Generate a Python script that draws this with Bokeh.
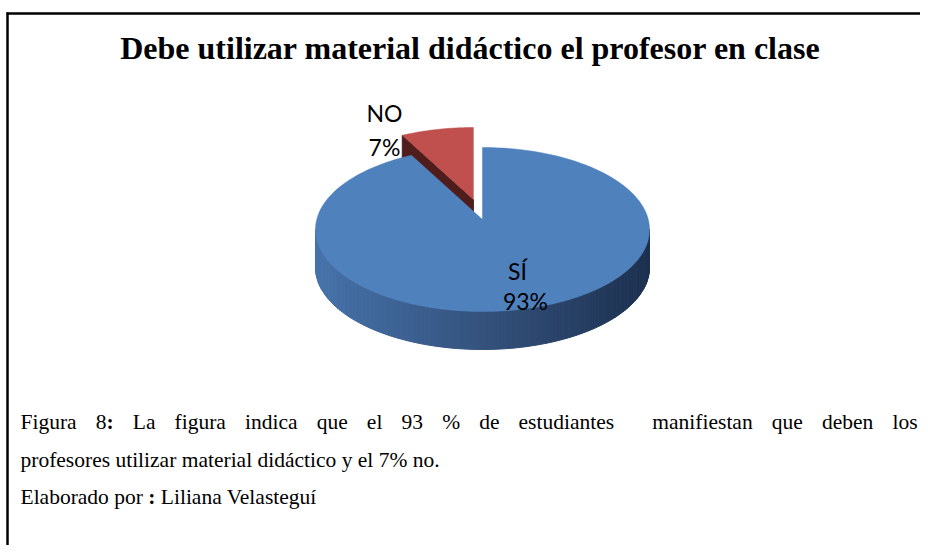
import math
from bokeh.plotting import figure
from bokeh.models import Range1d
from bokeh.core.properties import value
from bokeh.embed import file_html
from bokeh.resources import INLINE

# ---------------- data ----------------
labels = ["SÍ", "NO"]
values = [93, 7]
top_colors = ["#4f81bd", "#c0504d"]
dark_red = "#4e1d1c"
exploded = [False, True]

title_text = "Debe utilizar material didáctico el profesor en clase"
caption_line1 = "Figura 8: La figura indica que el 93 % de estudiantes  manifiestan que deben los"
caption_line2 = "profesores utilizar material didáctico y el 7% no."
caption_line3_a = "Elaborado por "
caption_line3_b = ":"
caption_line3_c = "Liliana Velasteguí"

# ---------------- layout constants (picture px) ----------------
W, H = 920, 545
cx, cy = 482.0, 229.0      # top ellipse centre
rx, ry = 167.0, 82.0
depth = 38.0
apex_lift = 10.0
explode_frac = 0.25

serif = "Liberation Serif"
cap_size = 21.5
# Times-compatible metrics (1/1000 em)
TNR = {' ': 250, '%': 833, '.': 250, ':': 278, '7': 500, '8': 500, '9': 500, '3': 500,
       'E': 611, 'F': 556, 'L': 611, 'V': 722,
       'a': 444, 'b': 500, 'c': 444, 'd': 500, 'e': 444, 'f': 333, 'g': 500, 'h': 500,
       'i': 278, 'j': 278, 'k': 500, 'l': 278, 'm': 778, 'n': 500, 'o': 500, 'p': 500,
       'q': 500, 'r': 333, 's': 389, 't': 278, 'u': 500, 'v': 500, 'w': 722, 'x': 500,
       'y': 500, 'z': 444, 'á': 444, 'í': 278, 'é': 444}
BOLD_COLON = 333


def tw(s, size=cap_size):
    return sum(TNR.get(ch, 500) for ch in s) / 1000.0 * size


p = figure(width=W, height=H, output_backend="svg", toolbar_location=None,
           x_range=Range1d(0, W), y_range=Range1d(H, 0),
           min_border=0, outline_line_color=None, background_fill_color="white")
p.axis.visible = False
p.grid.visible = False

# border lines of the figure box
p.segment(x0=[6], y0=[13], x1=[W], y1=[13], line_color="black", line_width=2.5)
p.segment(x0=[7], y0=[12], x1=[7], y1=[H], line_color="black", line_width=2.5)

# title
p.text(x=[470], y=[47], text=[title_text], text_font=value(serif),
       text_font_style="bold", text_font_size="32px", text_align="center",
       text_baseline="alphabetic", text_color="black")

# ---------------- pie geometry ----------------
total = float(sum(values))
spans = [v / total * 360.0 for v in values]
start = 90.0
slices = []
for i, sp in enumerate(spans):
    a_hi = start
    a_lo = start - sp
    slices.append((a_lo, a_hi))
    start = a_lo


def ept(a_deg, ox=0.0, oy=0.0):
    a = math.radians(a_deg)
    return cx + ox + rx * math.cos(a), cy + oy - ry * math.sin(a)


def offs(i):
    if not exploded[i]:
        return 0.0, 0.0
    lo, hi = slices[i]
    b = math.radians((lo + hi) / 2)
    return rx * explode_frac * math.cos(b), -ry * explode_frac * math.sin(b)


def lerp_col(c1, c2, t):
    a = [int(c1[k:k + 2], 16) for k in (1, 3, 5)]
    b = [int(c2[k:k + 2], 16) for k in (1, 3, 5)]
    return "#%02x%02x%02x" % tuple(int(round(a[j] + (b[j] - a[j]) * t)) for j in range(3))


def side_color(x):
    t = (x - (cx - rx)) / (2 * rx)
    stops = [(0.0, "#4673ab"), (0.5, "#34527c"), (1.0, "#1d3150")]
    for (t0, c0), (t1, c1) in zip(stops[:-1], stops[1:]):
        if t <= t1:
            return lerp_col(c0, c1, max(0.0, (t - t0) / (t1 - t0)))
    return stops[-1][1]


# exploded (back) slice first
for i in range(len(values)):
    if not exploded[i]:
        continue
    lo, hi = slices[i]
    ox, oy = offs(i)
    apx, apy = cx + ox, cy + oy - apex_lift
    ex, ey = ept(hi, ox, oy) if math.cos(math.radians(hi)) < math.cos(math.radians(lo)) else ept(lo, ox, oy)
    p.patch(x=[apx, ex, ex, apx], y=[apy, ey, ey + depth, apy + depth],
            fill_color=dark_red, line_color=dark_red, line_width=1)
    n = 30
    xs = [apx] + [ept(lo + (hi - lo) * k / n, ox, oy)[0] for k in range(n + 1)]
    ys = [apy] + [ept(lo + (hi - lo) * k / n, ox, oy)[1] for k in range(n + 1)]
    p.patch(x=xs, y=ys, fill_color=top_colors[i], line_color=top_colors[i], line_width=0.5)

# main slice: side wall then top
for i in range(len(values)):
    if exploded[i]:
        continue
    lo, hi = slices[i]
    a0, a1 = max(lo, -180.0), min(hi, 0.0)
    n = 120
    xs_list, ys_list, cols = [], [], []
    for k in range(n):
        t0 = a0 + (a1 - a0) * k / n
        t1 = a0 + (a1 - a0) * (k + 1) / n
        x0, y0 = ept(t0)
        x1, y1 = ept(t1)
        xs_list.append([x0, x1, x1, x0])
        ys_list.append([y0, y1, y1 + depth, y0 + depth])
        cols.append(side_color((x0 + x1) / 2))
    p.patches(xs=xs_list, ys=ys_list, fill_color=cols, line_color=cols, line_width=1)
    n = 240
    apx, apy = cx, cy - apex_lift
    xs = [apx] + [ept(lo + (hi - lo) * k / n)[0] for k in range(n + 1)]
    ys = [apy] + [ept(lo + (hi - lo) * k / n)[1] for k in range(n + 1)]
    p.patch(x=xs, y=ys, fill_color=top_colors[i], line_color=top_colors[i], line_width=0.5)

# data labels
label_font = value("Lato")
lab_pos = {"SÍ": [(517, 270), (525, 300)], "NO": [(384, 112), (384, 146)]}
for lab, v in zip(labels, values):
    (x1, y1), (x2, y2) = lab_pos[lab]
    p.text(x=[x1, x2], y=[y1, y2], text=[lab, "%d%%" % v], text_font=label_font,
           text_font_size="23px", text_align="center", text_baseline="alphabetic",
           text_color="#000000")

# ---------------- caption ----------------
left_x = 20.0
right_x = 917.0
base1, base2, base3 = 421.0, 459.0, 496.0

words = caption_line1.split(" ")
gaps = []
toks = []
cnt = 0
for w in words:
    if w == "":
        cnt += 1
        continue
    if toks:
        gaps.append(cnt)
    toks.append(w)
    cnt = 1
word_w = []
for w in toks:
    if w.endswith(":") and w[:-1].isdigit():
        word_w.append(tw(w[:-1]) + BOLD_COLON / 1000.0 * cap_size)
    else:
        word_w.append(tw(w))
free = (right_x - left_x) - sum(word_w)
unit = free / sum(gaps)
xs_n, ts_n, xs_b, ts_b = [], [], [], []
x = left_x
for k, w in enumerate(toks):
    if w.endswith(":") and w[:-1].isdigit():
        xs_n.append(x); ts_n.append(w[:-1])
        xs_b.append(x + tw(w[:-1])); ts_b.append(":")
    else:
        xs_n.append(x); ts_n.append(w)
    x += word_w[k]
    if k < len(gaps):
        x += unit * gaps[k]

fs = "%.1fpx" % cap_size
p.text(x=xs_n, y=[base1] * len(xs_n), text=ts_n, text_font=value(serif),
       text_font_size=fs, text_align="left", text_baseline="alphabetic",
       text_color="black")
p.text(x=xs_b, y=[base1] * len(xs_b), text=ts_b, text_font=value(serif),
       text_font_style="bold", text_font_size=fs, text_align="left",
       text_baseline="alphabetic", text_color="black")

p.text(x=[left_x], y=[base2], text=[caption_line2], text_font=value(serif),
       text_font_size=fs, text_align="left", text_baseline="alphabetic",
       text_color="black")

xa = left_x
xb = xa + tw(caption_line3_a)
xc = xb + BOLD_COLON / 1000.0 * cap_size + tw(" ")
p.text(x=[xa, xc], y=[base3, base3], text=[caption_line3_a.rstrip(), caption_line3_c],
       text_font=value(serif), text_font_size=fs, text_align="left",
       text_baseline="alphabetic", text_color="black")
p.text(x=[xb], y=[base3], text=[caption_line3_b], text_font=value(serif),
       text_font_style="bold", text_font_size=fs, text_align="left",
       text_baseline="alphabetic", text_color="black")

open("out.html", "w").write(file_html(p, INLINE))
